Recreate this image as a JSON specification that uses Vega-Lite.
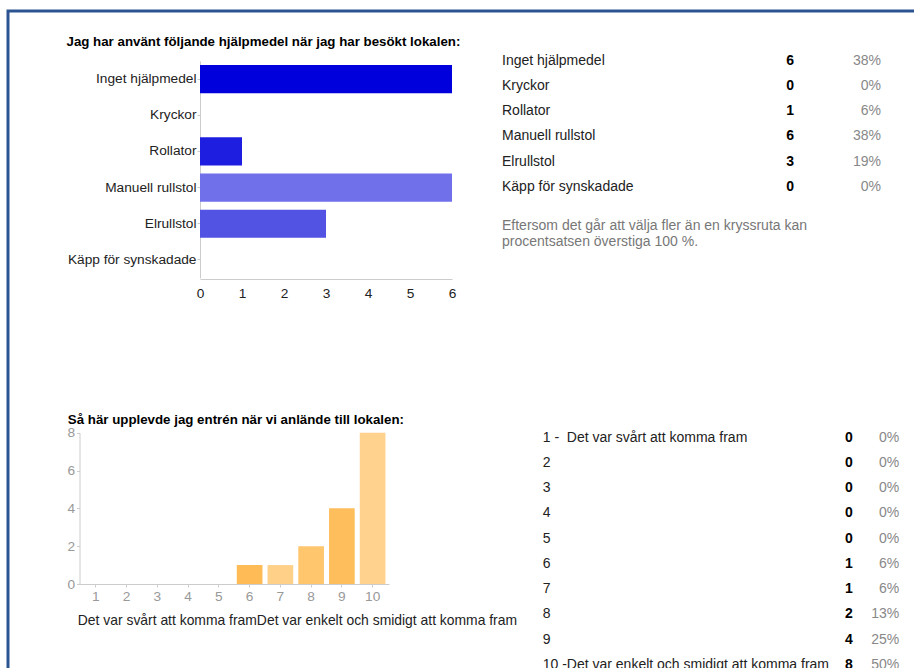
{
  "$schema": "https://vega.github.io/schema/vega-lite/v6.json",
  "width": 906,
  "height": 657,
  "autosize": "none",
  "padding": {"left": 8, "top": 11, "right": 0, "bottom": 0},
  "background": "white",
  "config": {
    "font": "Liberation Sans",
    "view": {"stroke": "#2c5493", "strokeWidth": 3, "strokeDash": [906, 1563, 657]},
    "axis": {"grid": false, "labelFont": "Liberation Sans", "titleFont": "Liberation Sans", "labelFlush": false, "labelOverlap": false}
  },
  "datasets": {
    "hjalpmedel": [
      {"hjalpmedel": "Inget hjälpmedel", "antal": 6, "procent": 0.38},
      {"hjalpmedel": "Kryckor", "antal": 0, "procent": 0},
      {"hjalpmedel": "Rollator", "antal": 1, "procent": 0.06},
      {"hjalpmedel": "Manuell rullstol", "antal": 6, "procent": 0.38},
      {"hjalpmedel": "Elrullstol", "antal": 3, "procent": 0.19},
      {"hjalpmedel": "Käpp för synskadade", "antal": 0, "procent": 0}
    ],
    "anm": [
      {"rad": "anm", "text": "Eftersom det går att välja fler än en kryssruta kan\nprocentsatsen överstiga 100 %."}
    ],
    "entre": [
      {"betyg": "1", "etikett": "1 -\u00a0 Det var svårt att komma fram", "antal": 0, "procent": 0},
      {"betyg": "2", "etikett": "2", "antal": 0, "procent": 0},
      {"betyg": "3", "etikett": "3", "antal": 0, "procent": 0},
      {"betyg": "4", "etikett": "4", "antal": 0, "procent": 0},
      {"betyg": "5", "etikett": "5", "antal": 0, "procent": 0},
      {"betyg": "6", "etikett": "6", "antal": 1, "procent": 0.06},
      {"betyg": "7", "etikett": "7", "antal": 1, "procent": 0.06},
      {"betyg": "8", "etikett": "8", "antal": 2, "procent": 0.13},
      {"betyg": "9", "etikett": "9", "antal": 4, "procent": 0.25},
      {"betyg": "10", "etikett": "10 -Det var enkelt och smidigt att komma fram", "antal": 8, "procent": 0.5}
    ]
  },
  "layer": [
    {
      "data": {"name": "hjalpmedel"},
      "mark": {"type": "bar"},
      "encoding": {
        "y": {
          "field": "hjalpmedel", "type": "nominal", "sort": null,
          "scale": {"range": [50, 267], "paddingInner": 0.222, "paddingOuter": 0.111},
          "axis": {
            "orient": "left", "offset": -192,
            "title": "Jag har använt följande hjälpmedel när jag har besökt lokalen:",
            "titleAngle": 0, "titleAlign": "left", "titleBaseline": "middle",
            "titleX": -134, "titleY": 30.7, "titleFontWeight": "bold", "titleFontSize": 13.3, "titleColor": "#000000",
            "labelFontSize": 13.7, "labelColor": "#222222", "tickColor": "#cccccc", "tickSize": 3, "labelPadding": 1,
            "domainColor": "#cccccc"
          }
        },
        "x": {
          "field": "antal", "type": "quantitative",
          "scale": {"domain": [0, 6], "range": [192, 444], "nice": false},
          "axis": {
            "orient": "bottom", "offset": -389, "values": [0, 1, 2, 3, 4, 5, 6], "format": "d",
            "ticks": false, "title": null, "labelColor": "#222222", "labelFontSize": 13.7,
            "domainColor": "#cccccc", "labelPadding": 7
          }
        },
        "color": {
          "field": "hjalpmedel", "type": "nominal",
          "scale": {
            "domain": ["Inget hjälpmedel", "Kryckor", "Rollator", "Manuell rullstol", "Elrullstol", "Käpp för synskadade"],
            "range": ["#0000dc", "#0000dc", "#1e1ee1", "#7070eb", "#5252e3", "#5252e3"]
          },
          "legend": null
        }
      }
    },
    {
      "layer": [
        {
          "data": {"name": "hjalpmedel"},
          "mark": {"type": "text", "align": "left", "baseline": "middle", "fontSize": 14, "color": "#222222"},
          "encoding": {
            "text": {"field": "hjalpmedel"},
            "x": {"datum": "svar", "type": "nominal", "scale": {"type": "point", "domain": ["svar"], "range": [494, 494], "padding": 0}, "axis": null},
            "y": {"field": "hjalpmedel", "type": "nominal", "scale": {"type": "point", "domain": ["Inget hjälpmedel", "Kryckor", "Rollator", "Manuell rullstol", "Elrullstol", "Käpp för synskadade", "tom", "anm"], "range": [50, 226], "padding": 0}, "axis": null}
          }
        },
        {
          "data": {"name": "hjalpmedel"},
          "mark": {"type": "text", "align": "right", "baseline": "middle", "fontSize": 14, "fontWeight": "bold", "color": "#000000"},
          "encoding": {
            "text": {"field": "antal", "type": "quantitative", "format": "d"},
            "x": {"datum": "antal", "type": "nominal", "scale": {"type": "point", "domain": ["antal"], "range": [786, 786], "padding": 0}, "axis": null},
            "y": {"field": "hjalpmedel", "type": "nominal", "scale": {"type": "point", "domain": ["Inget hjälpmedel", "Kryckor", "Rollator", "Manuell rullstol", "Elrullstol", "Käpp för synskadade", "tom", "anm"], "range": [50, 226], "padding": 0}, "axis": null}
          }
        },
        {
          "data": {"name": "hjalpmedel"},
          "mark": {"type": "text", "align": "right", "baseline": "middle", "fontSize": 14, "color": "#888888"},
          "encoding": {
            "text": {"field": "procent", "type": "quantitative", "format": ".0%"},
            "x": {"datum": "procent", "type": "nominal", "scale": {"type": "point", "domain": ["procent"], "range": [873, 873], "padding": 0}, "axis": null},
            "y": {"field": "hjalpmedel", "type": "nominal", "scale": {"type": "point", "domain": ["Inget hjälpmedel", "Kryckor", "Rollator", "Manuell rullstol", "Elrullstol", "Käpp för synskadade", "tom", "anm"], "range": [50, 226], "padding": 0}, "axis": null}
          }
        },
        {
          "data": {"name": "anm"},
          "mark": {"type": "text", "align": "left", "baseline": "middle", "fontSize": 14, "color": "#777777", "lineBreak": "\n", "lineHeight": 16, "dy": -11},
          "encoding": {
            "text": {"field": "text"},
            "x": {"datum": "svar", "type": "nominal", "scale": {"type": "point", "domain": ["svar"], "range": [494, 494], "padding": 0}, "axis": null},
            "y": {"field": "rad", "type": "nominal", "scale": {"type": "point", "domain": ["Inget hjälpmedel", "Kryckor", "Rollator", "Manuell rullstol", "Elrullstol", "Käpp för synskadade", "tom", "anm"], "range": [50, 226], "padding": 0}, "axis": null}
          }
        }
      ],
      "resolve": {"scale": {"x": "independent"}}
    },
    {
      "data": {"name": "entre"},
      "mark": {"type": "bar"},
      "encoding": {
        "x": {
          "field": "betyg", "type": "ordinal", "sort": null,
          "scale": {"range": [71.5, 381], "paddingInner": 0.165, "paddingOuter": 0.115},
          "axis": {
            "orient": "bottom", "offset": -84, "labelAngle": 0, "labelColor": "#999999", "labelFontSize": 13.7,
            "tickColor": "#cccccc", "tickSize": 3, "domainColor": "#cccccc", "labelPadding": 2,
            "title": "Det var svårt att komma framDet var enkelt och smidigt att komma fram",
            "titleAlign": "left", "titleBaseline": "middle", "titleX": 69.3, "titleY": 36.7,
            "titleFontWeight": "normal", "titleFontSize": 13.9, "titleColor": "#222222"
          }
        },
        "y": {
          "field": "antal", "type": "quantitative",
          "scale": {"domain": [0, 8], "range": [573, 421.7], "nice": false},
          "axis": {
            "orient": "left", "offset": -71.5, "values": [0, 2, 4, 6, 8], "format": "d",
            "labelColor": "#999999", "labelFontSize": 13.7, "tickColor": "#cccccc", "tickSize": 3, "labelPadding": 2,
            "domainColor": "#cccccc",
            "title": "Så här upplevde jag entrén när vi anlände till lokalen:",
            "titleAngle": 0, "titleAlign": "left", "titleBaseline": "middle",
            "titleX": -12.2, "titleY": 408, "titleFontWeight": "bold", "titleFontSize": 13.3, "titleColor": "#000000"
          }
        },
        "color": {
          "field": "betyg", "type": "nominal",
          "scale": {
            "domain": ["1", "2", "3", "4", "5", "6", "7", "8", "9", "10"],
            "range": ["#ffbb55", "#ffbb55", "#ffbb55", "#ffbb55", "#ffbb55", "#ffbb55", "#ffd088", "#ffc66e", "#ffbe5c", "#ffd28e"]
          },
          "legend": null
        }
      }
    },
    {
      "data": {"name": "entre"},
      "layer": [
        {
          "mark": {"type": "text", "align": "left", "baseline": "middle", "fontSize": 14, "color": "#222222"},
          "encoding": {
            "text": {"field": "etikett"},
            "x": {"datum": "svar", "type": "nominal", "scale": {"type": "point", "domain": ["svar"], "range": [534.7, 534.7], "padding": 0}, "axis": null},
            "y": {"field": "betyg", "type": "nominal", "sort": null, "scale": {"type": "point", "range": [426.7, 654], "padding": 0}, "axis": null}
          }
        },
        {
          "mark": {"type": "text", "align": "right", "baseline": "middle", "fontSize": 14, "fontWeight": "bold", "color": "#000000"},
          "encoding": {
            "text": {"field": "antal", "type": "quantitative", "format": "d"},
            "x": {"datum": "antal", "type": "nominal", "scale": {"type": "point", "domain": ["antal"], "range": [844.7, 844.7], "padding": 0}, "axis": null},
            "y": {"field": "betyg", "type": "nominal", "sort": null, "scale": {"type": "point", "range": [426.7, 654], "padding": 0}, "axis": null}
          }
        },
        {
          "mark": {"type": "text", "align": "right", "baseline": "middle", "fontSize": 14, "color": "#888888"},
          "encoding": {
            "text": {"field": "procent", "type": "quantitative", "format": ".0%"},
            "x": {"datum": "procent", "type": "nominal", "scale": {"type": "point", "domain": ["procent"], "range": [891.3, 891.3], "padding": 0}, "axis": null},
            "y": {"field": "betyg", "type": "nominal", "sort": null, "scale": {"type": "point", "range": [426.7, 654], "padding": 0}, "axis": null}
          }
        }
      ],
      "resolve": {"scale": {"x": "independent"}}
    }
  ],
  "resolve": {
    "scale": {"x": "independent", "y": "independent", "color": "independent"},
    "axis": {"x": "independent", "y": "independent"}
  }
}
